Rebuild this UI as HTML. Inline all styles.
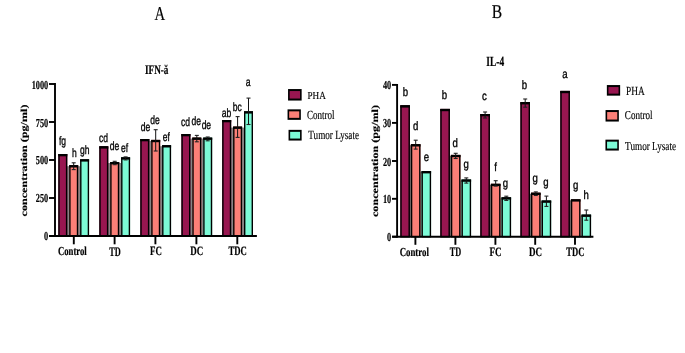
<!DOCTYPE html>
<html><head><meta charset="utf-8"><style>
html,body{margin:0;padding:0;background:#fff;}
body{width:685px;height:353px;overflow:hidden;}
svg{display:block;will-change:transform;filter:blur(0.3px);} text{text-rendering:geometricPrecision;}
</style></head><body>
<svg width="685" height="353" viewBox="0 0 685 353">
<rect width="685" height="353" fill="#fff"/>
<text transform="translate(154.55,19.70) scale(0.749,1)" font-family="&quot;Liberation Serif&quot;, serif" font-weight="normal" font-size="19.70" stroke="#000" stroke-width="0.2">A</text>
<text transform="translate(491.73,17.60) scale(0.798,1)" font-family="&quot;Liberation Serif&quot;, serif" font-weight="normal" font-size="19.55" stroke="#000" stroke-width="0.2">B</text>
<text transform="translate(144.98,73.57) scale(0.702,1)" font-family="&quot;Liberation Serif&quot;, serif" font-weight="bold" font-size="13.08" stroke="#000" stroke-width="0.2">IFN-ă</text>
<text transform="translate(486.37,65.90) scale(0.676,1)" font-family="&quot;Liberation Serif&quot;, serif" font-weight="bold" font-size="13.94" stroke="#000" stroke-width="0.2">IL-4</text>
<line x1="55" y1="83.1" x2="55" y2="237" stroke="#000" stroke-width="1.9"/>
<line x1="49" y1="84" x2="55" y2="84" stroke="#000" stroke-width="1.9"/>
<line x1="49" y1="122" x2="55" y2="122" stroke="#000" stroke-width="1.9"/>
<line x1="49" y1="160" x2="55" y2="160" stroke="#000" stroke-width="1.9"/>
<line x1="49" y1="198" x2="55" y2="198" stroke="#000" stroke-width="1.9"/>
<line x1="49" y1="236" x2="55" y2="236" stroke="#000" stroke-width="1.9"/>
<line x1="73.8" y1="236" x2="73.8" y2="244.3" stroke="#000" stroke-width="1.9"/>
<line x1="114.6" y1="236" x2="114.6" y2="244.3" stroke="#000" stroke-width="1.9"/>
<line x1="155.4" y1="236" x2="155.4" y2="244.3" stroke="#000" stroke-width="1.9"/>
<line x1="196.4" y1="236" x2="196.4" y2="244.3" stroke="#000" stroke-width="1.9"/>
<line x1="237.3" y1="236" x2="237.3" y2="244.3" stroke="#000" stroke-width="1.9"/>
<line x1="397.1" y1="84" x2="397.1" y2="237.6" stroke="#000" stroke-width="1.9"/>
<line x1="392" y1="84.9" x2="397.1" y2="84.9" stroke="#000" stroke-width="1.9"/>
<line x1="392" y1="122.9" x2="397.1" y2="122.9" stroke="#000" stroke-width="1.9"/>
<line x1="392" y1="161.0" x2="397.1" y2="161.0" stroke="#000" stroke-width="1.9"/>
<line x1="392" y1="198.8" x2="397.1" y2="198.8" stroke="#000" stroke-width="1.9"/>
<line x1="392" y1="236.7" x2="397.1" y2="236.7" stroke="#000" stroke-width="1.9"/>
<line x1="415.4" y1="236.7" x2="415.4" y2="244.8" stroke="#000" stroke-width="1.9"/>
<line x1="455.4" y1="236.7" x2="455.4" y2="244.8" stroke="#000" stroke-width="1.9"/>
<line x1="495.4" y1="236.7" x2="495.4" y2="244.8" stroke="#000" stroke-width="1.9"/>
<line x1="535.2" y1="236.7" x2="535.2" y2="244.8" stroke="#000" stroke-width="1.9"/>
<line x1="575" y1="236.7" x2="575" y2="244.8" stroke="#000" stroke-width="1.9"/>
<text transform="translate(31.64,88.50) scale(0.680,1)" font-family="&quot;Liberation Serif&quot;, serif" font-weight="bold" font-size="12.20" stroke="#000" stroke-width="0.2">1000</text>
<text transform="translate(35.79,126.50) scale(0.680,1)" font-family="&quot;Liberation Serif&quot;, serif" font-weight="bold" font-size="12.20" stroke="#000" stroke-width="0.2">750</text>
<text transform="translate(35.79,164.40) scale(0.680,1)" font-family="&quot;Liberation Serif&quot;, serif" font-weight="bold" font-size="12.20" stroke="#000" stroke-width="0.2">500</text>
<text transform="translate(35.79,201.90) scale(0.680,1)" font-family="&quot;Liberation Serif&quot;, serif" font-weight="bold" font-size="12.20" stroke="#000" stroke-width="0.2">250</text>
<text transform="translate(44.08,240.30) scale(0.680,1)" font-family="&quot;Liberation Serif&quot;, serif" font-weight="bold" font-size="12.20" stroke="#000" stroke-width="0.2">0</text>
<text transform="translate(382.94,89.10) scale(0.680,1)" font-family="&quot;Liberation Serif&quot;, serif" font-weight="bold" font-size="12.20" stroke="#000" stroke-width="0.2">40</text>
<text transform="translate(382.94,127.10) scale(0.680,1)" font-family="&quot;Liberation Serif&quot;, serif" font-weight="bold" font-size="12.20" stroke="#000" stroke-width="0.2">30</text>
<text transform="translate(382.94,165.50) scale(0.680,1)" font-family="&quot;Liberation Serif&quot;, serif" font-weight="bold" font-size="12.20" stroke="#000" stroke-width="0.2">20</text>
<text transform="translate(382.94,203.20) scale(0.680,1)" font-family="&quot;Liberation Serif&quot;, serif" font-weight="bold" font-size="12.20" stroke="#000" stroke-width="0.2">10</text>
<text transform="translate(387.08,241.00) scale(0.680,1)" font-family="&quot;Liberation Serif&quot;, serif" font-weight="bold" font-size="12.20" stroke="#000" stroke-width="0.2">0</text>
<text transform="translate(27.08,216.42) rotate(-90) scale(1,0.758)" font-family="&quot;Liberation Serif&quot;, serif" font-weight="bold" font-size="12.10" stroke="#000" stroke-width="0.2">concentration (pg/ml)</text>
<text transform="translate(377.86,217.02) rotate(-90) scale(1,0.767)" font-family="&quot;Liberation Serif&quot;, serif" font-weight="bold" font-size="12.12" stroke="#000" stroke-width="0.2">concentration (pg/ml)</text>
<text transform="translate(57.97,255.38) scale(0.712,1)" font-family="&quot;Liberation Serif&quot;, serif" font-weight="bold" font-size="12.20" stroke="#000" stroke-width="0.2">Control</text>
<text transform="translate(109.28,255.50) scale(0.632,1)" font-family="&quot;Liberation Serif&quot;, serif" font-weight="bold" font-size="13.13" stroke="#000" stroke-width="0.2">TD</text>
<text transform="translate(149.97,255.37) scale(0.691,1)" font-family="&quot;Liberation Serif&quot;, serif" font-weight="bold" font-size="12.84" stroke="#000" stroke-width="0.2">FC</text>
<text transform="translate(190.37,255.37) scale(0.698,1)" font-family="&quot;Liberation Serif&quot;, serif" font-weight="bold" font-size="12.84" stroke="#000" stroke-width="0.2">DC</text>
<text transform="translate(228.47,255.37) scale(0.679,1)" font-family="&quot;Liberation Serif&quot;, serif" font-weight="bold" font-size="12.84" stroke="#000" stroke-width="0.2">TDC</text>
<text transform="translate(399.66,255.68) scale(0.723,1)" font-family="&quot;Liberation Serif&quot;, serif" font-weight="bold" font-size="12.20" stroke="#000" stroke-width="0.2">Control</text>
<text transform="translate(449.78,255.80) scale(0.627,1)" font-family="&quot;Liberation Serif&quot;, serif" font-weight="bold" font-size="13.13" stroke="#000" stroke-width="0.2">TD</text>
<text transform="translate(489.56,255.67) scale(0.710,1)" font-family="&quot;Liberation Serif&quot;, serif" font-weight="bold" font-size="12.84" stroke="#000" stroke-width="0.2">FC</text>
<text transform="translate(528.96,255.67) scale(0.704,1)" font-family="&quot;Liberation Serif&quot;, serif" font-weight="bold" font-size="12.84" stroke="#000" stroke-width="0.2">DC</text>
<text transform="translate(566.37,255.67) scale(0.667,1)" font-family="&quot;Liberation Serif&quot;, serif" font-weight="bold" font-size="12.84" stroke="#000" stroke-width="0.2">TDC</text>
<rect x="67.00" y="166.20" width="2.50" height="69.30" fill="#858585"/>
<rect x="77.90" y="166.20" width="2.50" height="69.30" fill="#858585"/>
<rect x="108.00" y="163.00" width="2.50" height="72.50" fill="#858585"/>
<rect x="118.90" y="163.00" width="2.50" height="72.50" fill="#858585"/>
<rect x="149.00" y="140.90" width="2.50" height="94.60" fill="#858585"/>
<rect x="159.90" y="146.20" width="2.50" height="89.30" fill="#858585"/>
<rect x="190.10" y="138.60" width="2.50" height="96.90" fill="#858585"/>
<rect x="201.00" y="138.60" width="2.50" height="96.90" fill="#858585"/>
<rect x="230.90" y="127.60" width="2.50" height="107.90" fill="#858585"/>
<rect x="241.80" y="127.60" width="2.50" height="107.90" fill="#858585"/>
<rect x="58.30" y="154.00" width="9.00" height="81.50" fill="#981650"/>
<rect x="59.00" y="154.70" width="7.60" height="81.50" fill="none" stroke="#000" stroke-width="1.4"/>
<rect x="58.30" y="154.00" width="9.00" height="2.30" fill="#000"/>
<rect x="69.20" y="165.20" width="9.00" height="70.30" fill="#fb7f77"/>
<rect x="69.90" y="165.90" width="7.60" height="70.30" fill="none" stroke="#000" stroke-width="1.4"/>
<rect x="69.20" y="165.20" width="9.00" height="2.30" fill="#000"/>
<rect x="80.10" y="159.30" width="9.00" height="76.20" fill="#7cfad6"/>
<rect x="80.80" y="160.00" width="7.60" height="76.20" fill="none" stroke="#000" stroke-width="1.4"/>
<rect x="80.10" y="159.30" width="9.00" height="2.30" fill="#000"/>
<rect x="99.30" y="146.30" width="9.00" height="89.20" fill="#981650"/>
<rect x="100.00" y="147.00" width="7.60" height="89.20" fill="none" stroke="#000" stroke-width="1.4"/>
<rect x="99.30" y="146.30" width="9.00" height="2.30" fill="#000"/>
<rect x="110.20" y="162.00" width="9.00" height="73.50" fill="#fb7f77"/>
<rect x="110.90" y="162.70" width="7.60" height="73.50" fill="none" stroke="#000" stroke-width="1.4"/>
<rect x="110.20" y="162.00" width="9.00" height="2.30" fill="#000"/>
<rect x="121.10" y="157.30" width="9.00" height="78.20" fill="#7cfad6"/>
<rect x="121.80" y="158.00" width="7.60" height="78.20" fill="none" stroke="#000" stroke-width="1.4"/>
<rect x="121.10" y="157.30" width="9.00" height="2.30" fill="#000"/>
<rect x="140.30" y="139.00" width="9.00" height="96.50" fill="#981650"/>
<rect x="141.00" y="139.70" width="7.60" height="96.50" fill="none" stroke="#000" stroke-width="1.4"/>
<rect x="140.30" y="139.00" width="9.00" height="2.30" fill="#000"/>
<rect x="151.20" y="139.90" width="9.00" height="95.60" fill="#fb7f77"/>
<rect x="151.90" y="140.60" width="7.60" height="95.60" fill="none" stroke="#000" stroke-width="1.4"/>
<rect x="151.20" y="139.90" width="9.00" height="2.30" fill="#000"/>
<rect x="162.10" y="145.20" width="9.00" height="90.30" fill="#7cfad6"/>
<rect x="162.80" y="145.90" width="7.60" height="90.30" fill="none" stroke="#000" stroke-width="1.4"/>
<rect x="162.10" y="145.20" width="9.00" height="2.30" fill="#000"/>
<rect x="181.40" y="134.00" width="9.00" height="101.50" fill="#981650"/>
<rect x="182.10" y="134.70" width="7.60" height="101.50" fill="none" stroke="#000" stroke-width="1.4"/>
<rect x="181.40" y="134.00" width="9.00" height="2.30" fill="#000"/>
<rect x="192.30" y="137.60" width="9.00" height="97.90" fill="#fb7f77"/>
<rect x="193.00" y="138.30" width="7.60" height="97.90" fill="none" stroke="#000" stroke-width="1.4"/>
<rect x="192.30" y="137.60" width="9.00" height="2.30" fill="#000"/>
<rect x="203.20" y="137.60" width="9.00" height="97.90" fill="#7cfad6"/>
<rect x="203.90" y="138.30" width="7.60" height="97.90" fill="none" stroke="#000" stroke-width="1.4"/>
<rect x="203.20" y="137.60" width="9.00" height="2.30" fill="#000"/>
<rect x="222.20" y="120.00" width="9.00" height="115.50" fill="#981650"/>
<rect x="222.90" y="120.70" width="7.60" height="115.50" fill="none" stroke="#000" stroke-width="1.4"/>
<rect x="222.20" y="120.00" width="9.00" height="2.30" fill="#000"/>
<rect x="233.10" y="126.60" width="9.00" height="108.90" fill="#fb7f77"/>
<rect x="233.80" y="127.30" width="7.60" height="108.90" fill="none" stroke="#000" stroke-width="1.4"/>
<rect x="233.10" y="126.60" width="9.00" height="2.30" fill="#000"/>
<rect x="244.00" y="111.30" width="9.00" height="124.20" fill="#7cfad6"/>
<rect x="244.70" y="112.00" width="7.60" height="124.20" fill="none" stroke="#000" stroke-width="1.4"/>
<rect x="244.00" y="111.30" width="9.00" height="2.30" fill="#000"/>
<line x1="73.70" y1="162.8" x2="73.70" y2="169.59999999999997" stroke="#111" stroke-width="1.0"/>
<line x1="71.70" y1="162.8" x2="75.70" y2="162.8" stroke="#222" stroke-width="1.1"/>
<line x1="71.70" y1="169.59999999999997" x2="75.70" y2="169.59999999999997" stroke="#222" stroke-width="1.1"/>
<line x1="114.70" y1="161.3" x2="114.70" y2="164.7" stroke="#111" stroke-width="1.0"/>
<line x1="112.70" y1="161.3" x2="116.70" y2="161.3" stroke="#222" stroke-width="1.1"/>
<line x1="112.70" y1="164.7" x2="116.70" y2="164.7" stroke="#222" stroke-width="1.1"/>
<line x1="125.60" y1="156.9" x2="125.60" y2="159.9" stroke="#111" stroke-width="1.0"/>
<line x1="123.60" y1="156.9" x2="127.60" y2="156.9" stroke="#222" stroke-width="1.1"/>
<line x1="123.60" y1="159.9" x2="127.60" y2="159.9" stroke="#222" stroke-width="1.1"/>
<line x1="155.70" y1="129.7" x2="155.70" y2="151" stroke="#111" stroke-width="1.0"/>
<line x1="153.70" y1="129.7" x2="157.70" y2="129.7" stroke="#222" stroke-width="1.1"/>
<line x1="153.70" y1="151" x2="157.70" y2="151" stroke="#222" stroke-width="1.1"/>
<line x1="196.80" y1="135.4" x2="196.80" y2="141.79999999999998" stroke="#111" stroke-width="1.0"/>
<line x1="194.80" y1="135.4" x2="198.80" y2="135.4" stroke="#222" stroke-width="1.1"/>
<line x1="194.80" y1="141.79999999999998" x2="198.80" y2="141.79999999999998" stroke="#222" stroke-width="1.1"/>
<line x1="207.70" y1="137.0" x2="207.70" y2="140.8" stroke="#111" stroke-width="1.0"/>
<line x1="205.70" y1="137.0" x2="209.70" y2="137.0" stroke="#222" stroke-width="1.1"/>
<line x1="205.70" y1="140.8" x2="209.70" y2="140.8" stroke="#222" stroke-width="1.1"/>
<line x1="237.60" y1="116.6" x2="237.60" y2="137.4" stroke="#111" stroke-width="1.0"/>
<line x1="235.60" y1="116.6" x2="239.60" y2="116.6" stroke="#222" stroke-width="1.1"/>
<line x1="235.60" y1="137.4" x2="239.60" y2="137.4" stroke="#222" stroke-width="1.1"/>
<line x1="248.50" y1="98.1" x2="248.50" y2="124.5" stroke="#111" stroke-width="1.0"/>
<line x1="246.50" y1="98.1" x2="250.50" y2="98.1" stroke="#222" stroke-width="1.1"/>
<line x1="246.50" y1="124.5" x2="250.50" y2="124.5" stroke="#222" stroke-width="1.1"/>
<rect x="409.60" y="145.20" width="1.60" height="90.80" fill="#6a6a6a"/>
<rect x="420.20" y="172.10" width="1.60" height="63.90" fill="#6a6a6a"/>
<rect x="449.60" y="155.90" width="1.60" height="80.10" fill="#6a6a6a"/>
<rect x="460.20" y="180.50" width="1.60" height="55.50" fill="#6a6a6a"/>
<rect x="489.60" y="184.80" width="1.60" height="51.20" fill="#6a6a6a"/>
<rect x="500.20" y="198.30" width="1.60" height="37.70" fill="#6a6a6a"/>
<rect x="529.70" y="193.70" width="1.60" height="42.30" fill="#6a6a6a"/>
<rect x="540.30" y="201.50" width="1.60" height="34.50" fill="#6a6a6a"/>
<rect x="569.60" y="200.30" width="1.60" height="35.70" fill="#6a6a6a"/>
<rect x="580.20" y="215.60" width="1.60" height="20.40" fill="#6a6a6a"/>
<rect x="400.30" y="105.30" width="9.60" height="130.70" fill="#981650"/>
<rect x="401.00" y="106.00" width="8.20" height="130.70" fill="none" stroke="#000" stroke-width="1.4"/>
<rect x="400.30" y="105.30" width="9.60" height="2.30" fill="#000"/>
<rect x="410.90" y="144.20" width="9.60" height="91.80" fill="#fb7f77"/>
<rect x="411.60" y="144.90" width="8.20" height="91.80" fill="none" stroke="#000" stroke-width="1.4"/>
<rect x="410.90" y="144.20" width="9.60" height="2.30" fill="#000"/>
<rect x="421.50" y="171.10" width="9.60" height="64.90" fill="#7cfad6"/>
<rect x="422.20" y="171.80" width="8.20" height="64.90" fill="none" stroke="#000" stroke-width="1.4"/>
<rect x="421.50" y="171.10" width="9.60" height="2.30" fill="#000"/>
<rect x="440.30" y="108.90" width="9.60" height="127.10" fill="#981650"/>
<rect x="441.00" y="109.60" width="8.20" height="127.10" fill="none" stroke="#000" stroke-width="1.4"/>
<rect x="440.30" y="108.90" width="9.60" height="2.30" fill="#000"/>
<rect x="450.90" y="154.90" width="9.60" height="81.10" fill="#fb7f77"/>
<rect x="451.60" y="155.60" width="8.20" height="81.10" fill="none" stroke="#000" stroke-width="1.4"/>
<rect x="450.90" y="154.90" width="9.60" height="2.30" fill="#000"/>
<rect x="461.50" y="179.50" width="9.60" height="56.50" fill="#7cfad6"/>
<rect x="462.20" y="180.20" width="8.20" height="56.50" fill="none" stroke="#000" stroke-width="1.4"/>
<rect x="461.50" y="179.50" width="9.60" height="2.30" fill="#000"/>
<rect x="480.30" y="114.00" width="9.60" height="122.00" fill="#981650"/>
<rect x="481.00" y="114.70" width="8.20" height="122.00" fill="none" stroke="#000" stroke-width="1.4"/>
<rect x="480.30" y="114.00" width="9.60" height="2.30" fill="#000"/>
<rect x="490.90" y="183.80" width="9.60" height="52.20" fill="#fb7f77"/>
<rect x="491.60" y="184.50" width="8.20" height="52.20" fill="none" stroke="#000" stroke-width="1.4"/>
<rect x="490.90" y="183.80" width="9.60" height="2.30" fill="#000"/>
<rect x="501.50" y="197.30" width="9.60" height="38.70" fill="#7cfad6"/>
<rect x="502.20" y="198.00" width="8.20" height="38.70" fill="none" stroke="#000" stroke-width="1.4"/>
<rect x="501.50" y="197.30" width="9.60" height="2.30" fill="#000"/>
<rect x="520.40" y="102.10" width="9.60" height="133.90" fill="#981650"/>
<rect x="521.10" y="102.80" width="8.20" height="133.90" fill="none" stroke="#000" stroke-width="1.4"/>
<rect x="520.40" y="102.10" width="9.60" height="2.30" fill="#000"/>
<rect x="531.00" y="192.70" width="9.60" height="43.30" fill="#fb7f77"/>
<rect x="531.70" y="193.40" width="8.20" height="43.30" fill="none" stroke="#000" stroke-width="1.4"/>
<rect x="531.00" y="192.70" width="9.60" height="2.30" fill="#000"/>
<rect x="541.60" y="200.50" width="9.60" height="35.50" fill="#7cfad6"/>
<rect x="542.30" y="201.20" width="8.20" height="35.50" fill="none" stroke="#000" stroke-width="1.4"/>
<rect x="541.60" y="200.50" width="9.60" height="2.30" fill="#000"/>
<rect x="560.30" y="90.90" width="9.60" height="145.10" fill="#981650"/>
<rect x="561.00" y="91.60" width="8.20" height="145.10" fill="none" stroke="#000" stroke-width="1.4"/>
<rect x="560.30" y="90.90" width="9.60" height="2.30" fill="#000"/>
<rect x="570.90" y="199.30" width="9.60" height="36.70" fill="#fb7f77"/>
<rect x="571.60" y="200.00" width="8.20" height="36.70" fill="none" stroke="#000" stroke-width="1.4"/>
<rect x="570.90" y="199.30" width="9.60" height="2.30" fill="#000"/>
<rect x="581.50" y="214.60" width="9.60" height="21.40" fill="#7cfad6"/>
<rect x="582.20" y="215.30" width="8.20" height="21.40" fill="none" stroke="#000" stroke-width="1.4"/>
<rect x="581.50" y="214.60" width="9.60" height="2.30" fill="#000"/>
<line x1="415.70" y1="140.2" x2="415.70" y2="149.1" stroke="#111" stroke-width="1.0"/>
<line x1="413.70" y1="140.2" x2="417.70" y2="140.2" stroke="#222" stroke-width="1.1"/>
<line x1="413.70" y1="149.1" x2="417.70" y2="149.1" stroke="#222" stroke-width="1.1"/>
<line x1="455.70" y1="153.3" x2="455.70" y2="158.5" stroke="#111" stroke-width="1.0"/>
<line x1="453.70" y1="153.3" x2="457.70" y2="153.3" stroke="#222" stroke-width="1.1"/>
<line x1="453.70" y1="158.5" x2="457.70" y2="158.5" stroke="#222" stroke-width="1.1"/>
<line x1="466.30" y1="177.9" x2="466.30" y2="183.1" stroke="#111" stroke-width="1.0"/>
<line x1="464.30" y1="177.9" x2="468.30" y2="177.9" stroke="#222" stroke-width="1.1"/>
<line x1="464.30" y1="183.1" x2="468.30" y2="183.1" stroke="#222" stroke-width="1.1"/>
<line x1="485.10" y1="112" x2="485.10" y2="118" stroke="#111" stroke-width="1.0"/>
<line x1="483.10" y1="112" x2="487.10" y2="112" stroke="#222" stroke-width="1.1"/>
<line x1="483.10" y1="118" x2="487.10" y2="118" stroke="#222" stroke-width="1.1"/>
<line x1="495.70" y1="180.7" x2="495.70" y2="186.1" stroke="#111" stroke-width="1.0"/>
<line x1="493.70" y1="180.7" x2="497.70" y2="180.7" stroke="#222" stroke-width="1.1"/>
<line x1="493.70" y1="186.1" x2="497.70" y2="186.1" stroke="#222" stroke-width="1.1"/>
<line x1="506.30" y1="196.2" x2="506.30" y2="200.40000000000003" stroke="#111" stroke-width="1.0"/>
<line x1="504.30" y1="196.2" x2="508.30" y2="196.2" stroke="#222" stroke-width="1.1"/>
<line x1="504.30" y1="200.40000000000003" x2="508.30" y2="200.40000000000003" stroke="#222" stroke-width="1.1"/>
<line x1="525.20" y1="99" x2="525.20" y2="107.19999999999999" stroke="#111" stroke-width="1.0"/>
<line x1="523.20" y1="99" x2="527.20" y2="99" stroke="#222" stroke-width="1.1"/>
<line x1="523.20" y1="107.19999999999999" x2="527.20" y2="107.19999999999999" stroke="#222" stroke-width="1.1"/>
<line x1="535.80" y1="191.9" x2="535.80" y2="195.49999999999997" stroke="#111" stroke-width="1.0"/>
<line x1="533.80" y1="191.9" x2="537.80" y2="191.9" stroke="#222" stroke-width="1.1"/>
<line x1="533.80" y1="195.49999999999997" x2="537.80" y2="195.49999999999997" stroke="#222" stroke-width="1.1"/>
<line x1="546.40" y1="196.1" x2="546.40" y2="206.4" stroke="#111" stroke-width="1.0"/>
<line x1="544.40" y1="196.1" x2="548.40" y2="196.1" stroke="#222" stroke-width="1.1"/>
<line x1="544.40" y1="206.4" x2="548.40" y2="206.4" stroke="#222" stroke-width="1.1"/>
<line x1="586.30" y1="210" x2="586.30" y2="220.2" stroke="#111" stroke-width="1.0"/>
<line x1="584.30" y1="210" x2="588.30" y2="210" stroke="#222" stroke-width="1.1"/>
<line x1="584.30" y1="220.2" x2="588.30" y2="220.2" stroke="#222" stroke-width="1.1"/>
<line x1="49" y1="236" x2="256.9" y2="236" stroke="#000" stroke-width="1.9"/>
<line x1="392.2" y1="236.7" x2="593.4" y2="236.7" stroke="#000" stroke-width="1.9"/>
<text transform="translate(59.00,144.54) scale(0.700,1)" font-family="&quot;Liberation Sans&quot;, sans-serif" font-weight="normal" font-size="12.20" stroke="#000" stroke-width="0.35">fg</text>
<text transform="translate(72.06,157.47) scale(0.700,1)" font-family="&quot;Liberation Sans&quot;, sans-serif" font-weight="normal" font-size="12.20" stroke="#000" stroke-width="0.35">h</text>
<text transform="translate(79.92,153.59) scale(0.700,1)" font-family="&quot;Liberation Sans&quot;, sans-serif" font-weight="normal" font-size="12.20" stroke="#000" stroke-width="0.35">gh</text>
<text transform="translate(99.05,141.81) scale(0.700,1)" font-family="&quot;Liberation Sans&quot;, sans-serif" font-weight="normal" font-size="12.20" stroke="#000" stroke-width="0.35">cd</text>
<text transform="translate(109.73,149.81) scale(0.700,1)" font-family="&quot;Liberation Sans&quot;, sans-serif" font-weight="normal" font-size="12.20" stroke="#000" stroke-width="0.35">de</text>
<text transform="translate(121.11,152.41) scale(0.700,1)" font-family="&quot;Liberation Sans&quot;, sans-serif" font-weight="normal" font-size="12.20" stroke="#000" stroke-width="0.35">ef</text>
<text transform="translate(140.68,131.41) scale(0.700,1)" font-family="&quot;Liberation Sans&quot;, sans-serif" font-weight="normal" font-size="12.20" stroke="#000" stroke-width="0.35">de</text>
<text transform="translate(150.18,124.11) scale(0.700,1)" font-family="&quot;Liberation Sans&quot;, sans-serif" font-weight="normal" font-size="12.20" stroke="#000" stroke-width="0.35">de</text>
<text transform="translate(162.66,141.01) scale(0.700,1)" font-family="&quot;Liberation Sans&quot;, sans-serif" font-weight="normal" font-size="12.20" stroke="#000" stroke-width="0.35">ef</text>
<text transform="translate(181.05,126.31) scale(0.700,1)" font-family="&quot;Liberation Sans&quot;, sans-serif" font-weight="normal" font-size="12.20" stroke="#000" stroke-width="0.35">cd</text>
<text transform="translate(191.53,125.46) scale(0.700,1)" font-family="&quot;Liberation Sans&quot;, sans-serif" font-weight="normal" font-size="12.20" stroke="#000" stroke-width="0.35">de</text>
<text transform="translate(201.63,128.91) scale(0.700,1)" font-family="&quot;Liberation Sans&quot;, sans-serif" font-weight="normal" font-size="12.20" stroke="#000" stroke-width="0.35">de</text>
<text transform="translate(221.71,116.71) scale(0.700,1)" font-family="&quot;Liberation Sans&quot;, sans-serif" font-weight="normal" font-size="12.20" stroke="#000" stroke-width="0.35">ab</text>
<text transform="translate(232.67,111.21) scale(0.700,1)" font-family="&quot;Liberation Sans&quot;, sans-serif" font-weight="normal" font-size="12.20" stroke="#000" stroke-width="0.35">bc</text>
<text transform="translate(245.81,86.03) scale(0.700,1)" font-family="&quot;Liberation Sans&quot;, sans-serif" font-weight="normal" font-size="12.20" stroke="#000" stroke-width="0.35">a</text>
<text transform="translate(402.82,95.84) scale(0.800,1)" font-family="&quot;Liberation Sans&quot;, sans-serif" font-weight="normal" font-size="12.00" stroke="#000" stroke-width="0.35">b</text>
<text transform="translate(413.06,130.04) scale(0.800,1)" font-family="&quot;Liberation Sans&quot;, sans-serif" font-weight="normal" font-size="12.00" stroke="#000" stroke-width="0.35">d</text>
<text transform="translate(423.71,160.63) scale(0.800,1)" font-family="&quot;Liberation Sans&quot;, sans-serif" font-weight="normal" font-size="12.00" stroke="#000" stroke-width="0.35">e</text>
<text transform="translate(441.87,98.74) scale(0.800,1)" font-family="&quot;Liberation Sans&quot;, sans-serif" font-weight="normal" font-size="12.00" stroke="#000" stroke-width="0.35">b</text>
<text transform="translate(452.41,147.34) scale(0.800,1)" font-family="&quot;Liberation Sans&quot;, sans-serif" font-weight="normal" font-size="12.00" stroke="#000" stroke-width="0.35">d</text>
<text transform="translate(463.61,168.30) scale(0.800,1)" font-family="&quot;Liberation Sans&quot;, sans-serif" font-weight="normal" font-size="12.00" stroke="#000" stroke-width="0.35">g</text>
<text transform="translate(482.08,100.33) scale(0.800,1)" font-family="&quot;Liberation Sans&quot;, sans-serif" font-weight="normal" font-size="12.00" stroke="#000" stroke-width="0.35">c</text>
<text transform="translate(494.28,171.00) scale(0.800,1)" font-family="&quot;Liberation Sans&quot;, sans-serif" font-weight="normal" font-size="12.00" stroke="#000" stroke-width="0.35">f</text>
<text transform="translate(502.66,186.55) scale(0.800,1)" font-family="&quot;Liberation Sans&quot;, sans-serif" font-weight="normal" font-size="12.00" stroke="#000" stroke-width="0.35">g</text>
<text transform="translate(521.82,88.94) scale(0.800,1)" font-family="&quot;Liberation Sans&quot;, sans-serif" font-weight="normal" font-size="12.00" stroke="#000" stroke-width="0.35">b</text>
<text transform="translate(532.41,182.05) scale(0.800,1)" font-family="&quot;Liberation Sans&quot;, sans-serif" font-weight="normal" font-size="12.00" stroke="#000" stroke-width="0.35">g</text>
<text transform="translate(543.16,186.10) scale(0.800,1)" font-family="&quot;Liberation Sans&quot;, sans-serif" font-weight="normal" font-size="12.00" stroke="#000" stroke-width="0.35">g</text>
<text transform="translate(562.14,78.03) scale(0.800,1)" font-family="&quot;Liberation Sans&quot;, sans-serif" font-weight="normal" font-size="12.00" stroke="#000" stroke-width="0.35">a</text>
<text transform="translate(573.06,189.00) scale(0.800,1)" font-family="&quot;Liberation Sans&quot;, sans-serif" font-weight="normal" font-size="12.00" stroke="#000" stroke-width="0.35">g</text>
<text transform="translate(583.51,199.00) scale(0.800,1)" font-family="&quot;Liberation Sans&quot;, sans-serif" font-weight="normal" font-size="12.00" stroke="#000" stroke-width="0.35">h</text>
<rect x="288.05" y="89.05" width="13.60" height="11.50" fill="#000"/>
<rect x="289.65" y="91.05" width="10.40" height="7.50" fill="#981650"/>
<text transform="translate(307.43,98.70) scale(0.852,1)" font-family="&quot;Liberation Serif&quot;, serif" font-weight="normal" font-size="10.76" stroke="#000" stroke-width="0.15">PHA</text>
<rect x="287.55" y="109.35" width="13.30" height="10.50" fill="#000"/>
<rect x="289.15" y="111.35" width="10.10" height="6.50" fill="#fb7f77"/>
<text transform="translate(306.94,118.98) scale(0.726,1)" font-family="&quot;Liberation Serif&quot;, serif" font-weight="normal" font-size="12.48" stroke="#000" stroke-width="0.15">Control</text>
<rect x="288.55" y="129.85" width="13.10" height="10.70" fill="#000"/>
<rect x="290.15" y="131.85" width="9.90" height="6.70" fill="#7cfad6"/>
<text transform="translate(308.32,138.78) scale(0.724,1)" font-family="&quot;Liberation Serif&quot;, serif" font-weight="normal" font-size="12.64" stroke="#000" stroke-width="0.15">Tumor Lysate</text>
<rect x="606.85" y="85.05" width="13.30" height="10.60" fill="#000"/>
<rect x="608.45" y="87.05" width="10.10" height="6.60" fill="#981650"/>
<text transform="translate(626.12,94.60) scale(0.754,1)" font-family="&quot;Liberation Serif&quot;, serif" font-weight="normal" font-size="12.42" stroke="#000" stroke-width="0.15">PHA</text>
<rect x="605.55" y="110.05" width="13.30" height="11.50" fill="#000"/>
<rect x="607.15" y="112.05" width="10.10" height="7.50" fill="#fb7f77"/>
<text transform="translate(624.84,119.38) scale(0.755,1)" font-family="&quot;Liberation Serif&quot;, serif" font-weight="normal" font-size="12.06" stroke="#000" stroke-width="0.15">Control</text>
<rect x="605.45" y="139.65" width="13.40" height="10.90" fill="#000"/>
<rect x="607.05" y="141.65" width="10.20" height="6.90" fill="#7cfad6"/>
<text transform="translate(625.12,149.88) scale(0.754,1)" font-family="&quot;Liberation Serif&quot;, serif" font-weight="normal" font-size="12.18" stroke="#000" stroke-width="0.15">Tumor Lysate</text>
</svg>
</body></html>
